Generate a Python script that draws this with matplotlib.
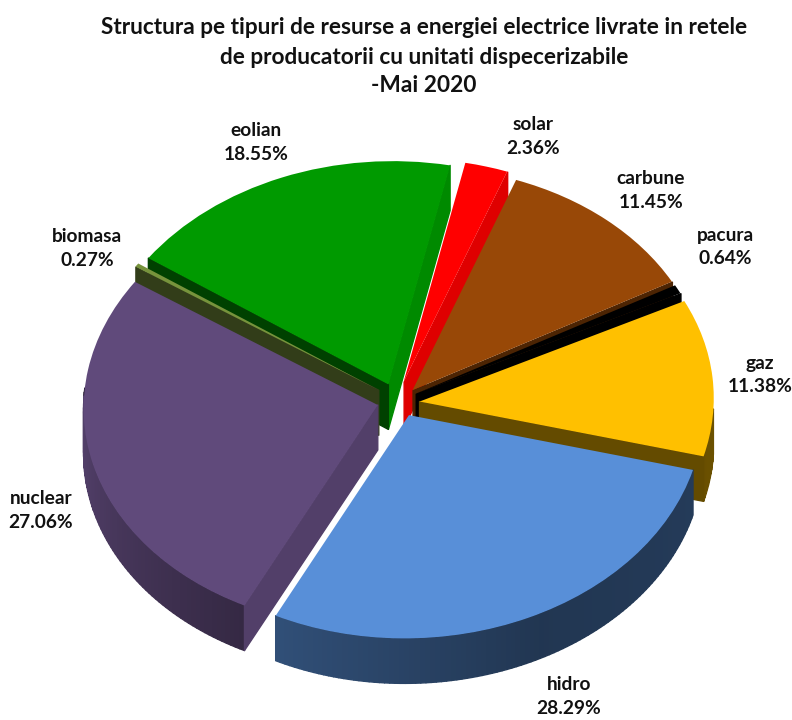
import numpy as np
import matplotlib
matplotlib.use("Agg")
import matplotlib.pyplot as plt
from matplotlib.collections import PolyCollection
from matplotlib.transforms import Affine2D
from matplotlib.colors import to_rgb

plt.rcParams['font.family'] = ['Lato', 'DejaVu Sans']

# data (clockwise from the top)
names = ["carbune", "pacura", "gaz", "hidro", "nuclear", "biomasa", "eolian", "solar"]
shares = [11.45, 0.64, 11.38, 28.29, 27.06, 0.27, 18.55, 2.36]
colors = ["#984807", "#000000", "#FFC000", "#588FD8", "#604A7B", "#77933C", "#009A00", "#FF0000"]
explode = [0.07, 0.06, 0.06, 0.05, 0.085, 0.09, 0.09, 0.08]
nudge = {"carbune": (-3, -1), "pacura": (-2, -3), "gaz": (0, 0), "hidro": (1, 2),
         "nuclear": (0, -3), "biomasa": (-2, -2), "eolian": (-4, 0), "solar": (-5, -4)}
title_lines = ["Structura pe tipuri de resurse a energiei electrice livrate in retele",
               "de producatorii cu unitati dispecerizabile",
               "-Mai 2020"]
label_pos = {"carbune": (651, 191), "pacura": (725, 247), "gaz": (760, 375), "hidro": (569, 697),
             "nuclear": (41, 510), "biomasa": (87, 248), "eolian": (256, 143), "solar": (533, 137)}
draw_order = ["solar", "eolian", "carbune", "pacura", "biomasa", "gaz", "nuclear", "hidro"]

DEPTH = 45
MAT = np.array([[293.6, 18.5, 402.0], [10.6, -223.0, 403.0], [0, 0, 1]])


def wrap(phi):
    return (phi + 180) % 360 - 180


def face_shade(phi):
    return np.interp(wrap(phi), [-180, -122, -101, -58, -23, 0], [0.45, 0.42, 0.39, 0.5, 0.86, 0.92])


def rim_shade(phi):
    return np.interp(wrap(phi), [-180, -115, -60, 0], [0.9, 0.56, 0.38, 0.42])


def to_px(u):
    u = np.atleast_2d(u)
    return u @ MAT[:2, :2].T + MAT[:2, 2]


fig = plt.figure(figsize=(7.92, 7.2), dpi=100, facecolor="white")
ax = fig.add_axes([0, 0, 1, 1])
wedges, _ = ax.pie(shares, colors=colors, explode=explode, startangle=73, counterclock=False,
                   wedgeprops=dict(linewidth=0))
ax.set_aspect("auto")
ax.set_xlim(0, 792)
ax.set_ylim(720, 0)
ax.axis("off")
aff = Affine2D(MAT)

for rank, name in enumerate(draw_order):
    i = names.index(name)
    w = wedges[i]
    z = 2 + rank * 2
    base = np.array(to_rgb(colors[i]))
    t1, t2 = w.theta1, w.theta2
    c = np.array(w.center)
    off = np.array(nudge[name], dtype=float)
    polys, cols = [], []
    # outer rim, shaded along the arc
    th = np.linspace(t1, t2, max(int(t2 - t1), 2) + 1)
    pts = to_px(np.c_[c[0] + np.cos(np.radians(th)), c[1] + np.sin(np.radians(th))]) + off
    for k in range(len(th) - 1):
        mid = (th[k] + th[k + 1]) / 2
        if np.sin(np.radians(mid)) < 0.02:
            polys.append([pts[k], pts[k + 1], pts[k + 1] + [0, DEPTH], pts[k] + [0, DEPTH]])
            cols.append(base * rim_shade(mid))
    # radial cut faces
    for ang, phi in ((t1, t1 - 90), (t2, t2 + 90)):
        if np.sin(np.radians(phi)) < 0:
            rim = c + [np.cos(np.radians(ang)), np.sin(np.radians(ang))]
            a, b = to_px(c)[0] + off, to_px(rim)[0] + off
            polys.append([a, b, b + [0, DEPTH], a + [0, DEPTH]])
            cols.append(base * face_shade(phi))
    if polys:
        ax.add_collection(PolyCollection(polys, facecolors=cols, edgecolors=cols, linewidths=1.0, zorder=z))
    w.set_transform(aff + Affine2D().translate(*off) + ax.transData)
    w.set_zorder(z + 1)

for line, y in zip(title_lines, (27, 57, 86)):
    ax.text(424, y, line, ha="center", va="center", fontsize=16.3, fontweight="bold", color="#111111")

for name, val in zip(names, shares):
    x, y = label_pos[name]
    ax.text(x, y, f"{name}\n{val:.2f}%", ha="center", va="center", fontsize=13.8, fontweight="bold",
            color="#111111", linespacing=1.5, zorder=40)

fig.savefig("out.png", dpi=100, facecolor="white")
